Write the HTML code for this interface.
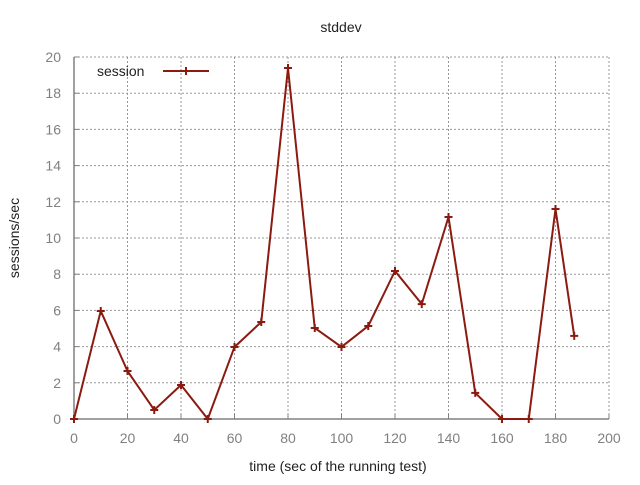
<!DOCTYPE html>
<html><head><meta charset="utf-8"><style>
body{margin:0;background:#fff;}
svg{font-family:"Liberation Sans","DejaVu Sans",sans-serif;font-size:14px;}
</style></head><body>
<svg id="chart" width="640" height="480">
<rect width="640" height="480" fill="#fff"/>
<g id="grid"></g><g id="axes"></g><g id="series"></g>
<text x="341" y="32" text-anchor="middle" fill="#222">stddev</text>
<text x="338" y="471" text-anchor="middle" fill="#222">time (sec of the running test)</text>
<text transform="translate(19,238) rotate(-90)" text-anchor="middle" fill="#222">sessions/sec</text>
<g>
<text x="97" y="76" fill="#222">session</text>
<line x1="163" y1="71" x2="209" y2="71" stroke="#8b1a10" stroke-width="2"/>
<path d="M186 67v8M182 71h8" stroke="#8b1a10" stroke-width="2"/>
</g>
</svg>
<script>
const xValues=[0,10,20,30,40,50,60,70,80,90,100,110,120,130,140,150,160,170,180,187];
const yValues=[0,5.97,2.65,0.5,1.88,0,3.98,5.36,19.39,5.03,3.98,5.14,8.18,6.35,11.16,1.44,0,0,11.6,4.59];
const xTicks=[0,20,40,60,80,100,120,140,160,180,200];
const yTicks=[0,2,4,6,8,10,12,14,16,18,20];
const L=74,R=609,T=57,B=419;
const sx=v=>L+(v-0)/200*(R-L), sy=v=>B-(v/20)*(B-T);
const NS="http://www.w3.org/2000/svg";
function mk(tag,attrs,parent){const e=document.createElementNS(NS,tag);for(const k in attrs)e.setAttribute(k,attrs[k]);parent.appendChild(e);return e;}
const grid=document.getElementById('grid'),axes=document.getElementById('axes'),ser=document.getElementById('series');
xTicks.forEach(t=>{const x=sx(t);
 if(t>0){const g=mk('line',{x1:x,y1:T,x2:x,y2:B,stroke:'#999','stroke-dasharray':'2,2','stroke-width':1},grid);
 
 }
 const tk=mk('path',{d:`M${x} ${B}v-5`,stroke:'#808080','stroke-width':1},axes);
 
 
 const lb=mk('text',{x:x,y:B+24,'text-anchor':'middle',fill:'#808080'},axes);lb.textContent=t;
 
 
});
yTicks.forEach(t=>{const y=sy(t);
 if(t>0){const g=mk('line',{x1:L,y1:y,x2:R,y2:y,stroke:'#999','stroke-dasharray':'2,2','stroke-width':1},grid);
 
 }
 const tk=mk('path',{d:`M${L} ${y}h5`,stroke:'#808080','stroke-width':1},axes);
 
 
 const lb=mk('text',{x:L-13,y:y+5,'text-anchor':'end',fill:'#808080'},axes);lb.textContent=t;
 
 
});
const ax=mk('path',{d:`M${L} ${T}V${B}H${R}`,fill:'none',stroke:'#808080','stroke-width':1.5},axes);


const pts=xValues.map((x,i)=>sx(x)+','+sy(yValues[i])).join(' ');
const pl=mk('polyline',{points:pts,fill:'none',stroke:'#8b1a10','stroke-width':2},ser);


xValues.forEach((x,i)=>{const px=sx(x),py=sy(yValues[i]);
 const m=mk('path',{d:`M${px} ${py-4}v8M${px-4} ${py}h8`,stroke:'#8b1a10','stroke-width':2},ser);
 
 
});
</script>
</body></html>
